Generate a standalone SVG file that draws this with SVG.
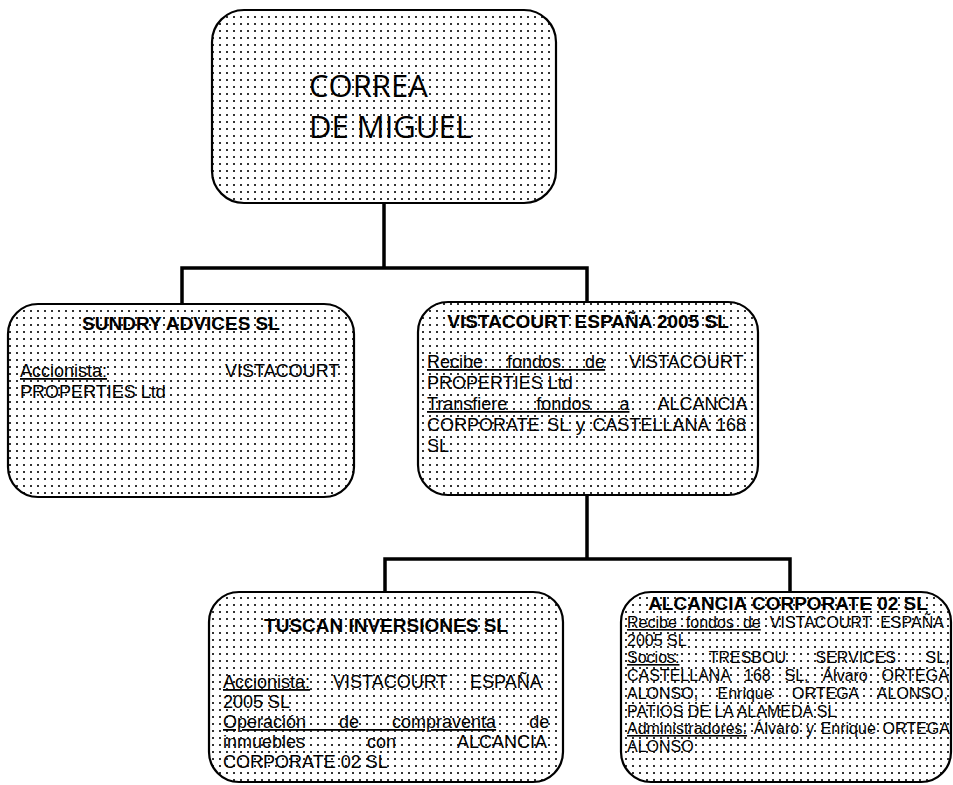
<svg xmlns="http://www.w3.org/2000/svg" width="953" height="785" viewBox="0 0 953 785">
<style>
.box{fill:url(#dots);stroke:#000;stroke-width:2.2}
.conn{fill:none;stroke:#000;stroke-width:3.5;stroke-linecap:square}
.big{font-family:"Open Sans","Liberation Sans",sans-serif;font-size:31px;fill:#000}
.ttl{font-family:"Liberation Sans",Arial,sans-serif;font-size:19px;font-weight:bold;fill:#000;text-anchor:middle}
.b{font-family:"Liberation Sans",Arial,sans-serif;font-size:18px;fill:#000}
.s{font-family:"Liberation Sans",Arial,sans-serif;font-size:16px;fill:#000}
.u{text-decoration:underline}
</style>
<defs>
<pattern id="dots" width="7" height="7" patternUnits="userSpaceOnUse">
<rect x="0" y="0" width="7" height="7" fill="#fff"/>
<rect x="2" y="2" width="2" height="2" fill="#333"/>
</pattern>
</defs>
<g id="connectors">
<path class="conn" d="M384 203V268M182 268H587M182 268V304M587 268V302M587 495V559M385 559H790M385 559V592M790 559V592"/>
</g>
<g id="correa">
<rect class="box" x="212" y="10" width="344" height="193" rx="32"/>
<text class="big" x="309" y="97">CORREA</text>
<text class="big" x="309" y="138">DE MIGUEL</text>
</g>
<g id="sundry">
<rect class="box" x="8" y="304" width="346" height="193" rx="30"/>
<text class="ttl" x="181" y="330">SUNDRY ADVICES SL</text>
<text class="b" x="20" y="377" word-spacing="113"><tspan class="u">Accionista:</tspan> VISTACOURT</text>
<text class="b" x="20" y="398">PROPERTIES Ltd</text>
</g>
<g id="vistacourt">
<rect class="box" x="418" y="302" width="340" height="193" rx="30"/>
<text class="ttl" x="588" y="328">VISTACOURT ESPAÑA 2005 SL</text>
<text class="b" x="427" y="368" word-spacing="19"><tspan class="u">Recibe fondos de</tspan> VISTACOURT</text>
<text class="b" x="427" y="389">PROPERTIES Ltd</text>
<text class="b" x="427" y="410" word-spacing="24"><tspan class="u">Transfiere fondos a</tspan> ALCANCIA</text>
<text class="b" x="427" y="431" word-spacing="2.5">CORPORATE SL y CASTELLANA 168</text>
<text class="b" x="427" y="452">SL</text>
</g>
<g id="tuscan">
<rect class="box" x="209" y="592" width="354" height="190" rx="30"/>
<text class="ttl" x="386" y="632">TUSCAN INVERSIONES SL</text>
<text class="b" x="223" y="688" word-spacing="18"><tspan class="u">Accionista:</tspan> VISTACOURT ESPAÑA</text>
<text class="b" x="223" y="708">2005 SL</text>
<text class="b" x="223" y="728" word-spacing="28"><tspan class="u">Operación de compraventa</tspan> de</text>
<text class="b" x="223" y="748" word-spacing="57">inmuebles con ALCANCIA</text>
<text class="b" x="223" y="768">CORPORATE 02 SL</text>
</g>
<g id="alcancia">
<rect class="box" x="621" y="592" width="330" height="190" rx="30"/>
<text class="ttl" x="788" y="610">ALCANCIA CORPORATE 02 SL</text>
<text class="s" x="627" y="628" word-spacing="4.6"><tspan class="u">Recibe fondos de</tspan> VISTACOURT ESPAÑA</text>
<text class="s" x="627" y="646">2005 SL</text>
<text class="s" x="627" y="663" word-spacing="25"><tspan class="u">Socios:</tspan> TRESBOU SERVICES SL,</text>
<text class="s" x="627" y="681" word-spacing="9.4">CASTELLANA 168 SL, Álvaro ORTEGA</text>
<text class="s" x="627" y="699" word-spacing="14.9">ALONSO, Enrique ORTEGA ALONSO,</text>
<text class="s" x="627" y="717">PATIOS DE LA ALAMEDA SL</text>
<text class="s" x="627" y="734" word-spacing="2.3"><tspan class="u">Administradores:</tspan> Álvaro y Enrique ORTEGA</text>
<text class="s" x="627" y="752">ALONSO</text>
</g>
</svg>
